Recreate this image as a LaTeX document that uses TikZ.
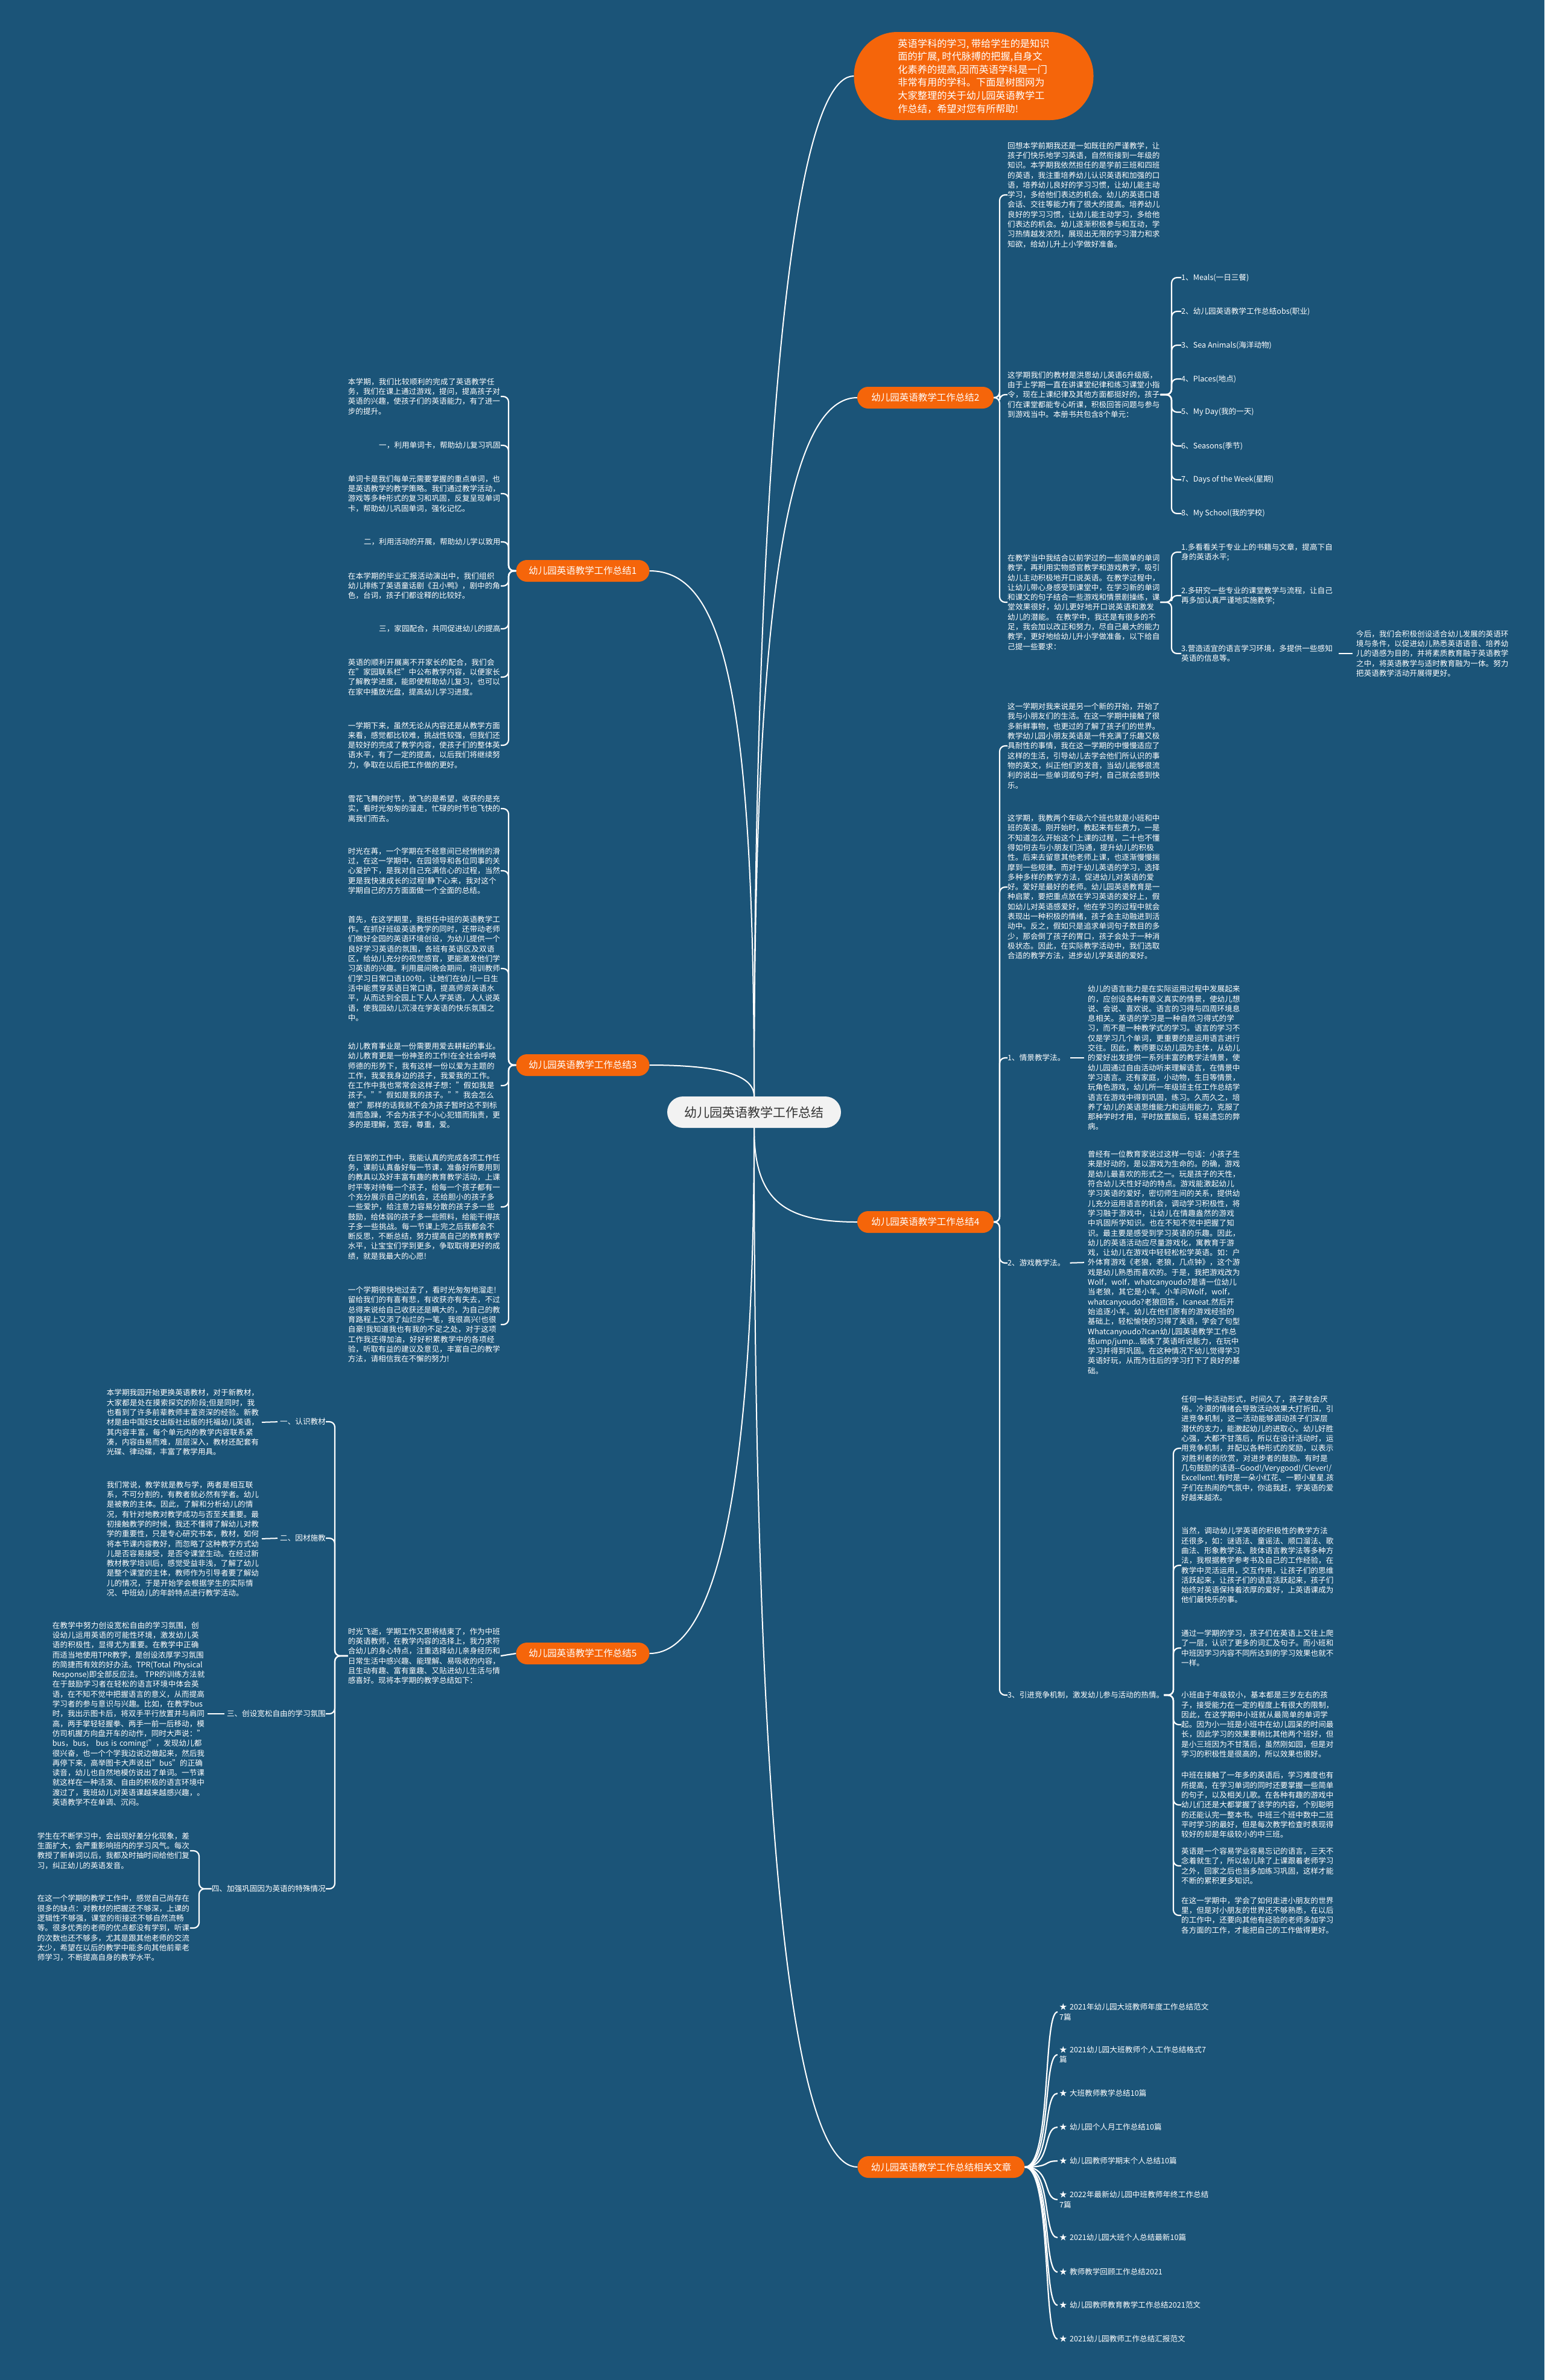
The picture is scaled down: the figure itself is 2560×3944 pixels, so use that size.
\documentclass[tikz,border=0pt]{standalone}
\usepackage{fontspec}
\setmainfont{Noto Sans CJK SC}
\XeTeXlinebreaklocale "zh"
\XeTeXlinebreakskip=0pt plus 0.5pt
\definecolor{bgc}{HTML}{1B5478}
\definecolor{org}{HTML}{F5650A}
\definecolor{cgray}{HTML}{F2F2F2}
\definecolor{ctext}{HTML}{333333}
\newcommand{\bodyfs}{\fontsize{12.6}{16.3}\selectfont}
\begin{document}
\begin{tikzpicture}[x=1pt,y=-1pt,
  tx/.style={text=white, font=\bodyfs, inner sep=0pt, align=left, text width=253pt},
  rt/.style={tx, anchor=west},
  lt/.style={tx, anchor=east},
  lh/.style={text=white, font=\bodyfs, inner sep=0pt, anchor=east},
  rh/.style={text=white, font=\bodyfs, inner sep=0pt, anchor=west},
  rel/.style={text=white, font=\bodyfs, inner sep=0pt, align=left, text width=250pt, anchor=west},
  mainnode/.style={fill=org, text=white, rounded corners=18pt, minimum height=36pt, font=\fontsize{15.5}{18}\selectfont, inner xsep=10pt, inner ysep=0pt},
  br/.style={draw=white, line width=2.2pt, rounded corners=9pt},
  mc/.style={draw=white, line width=2pt},
  dashline/.style={draw=white, line width=2pt}
]
\path[use as bounding box, fill=bgc] (0,0) rectangle (2560,3944);

% ---------- central and main nodes ----------
\node[fill=cgray, text=ctext, rounded corners=26pt, minimum width=288pt, minimum height=52pt, inner sep=0pt, font=\fontsize{21}{24}\selectfont] (c) at (1250,1843) {幼儿园英语教学工作总结};

\node[fill=org, text=white, rounded corners=72pt, minimum width=397pt, minimum height=146pt, align=left, inner sep=0pt, font=\fontsize{16.2}{21.6}\selectfont] (intro) at (1614,126) {英语学科的学习, 带给学生的是知识\\面的扩展, 时代脉搏的把握,自身文\\化素养的提高,因而英语学科是一门\\非常有用的学科。下面是树图网为\\大家整理的关于幼儿园英语教学工\\作总结，希望对您有所帮助!};

\node[mainnode, minimum width=221pt] (n1) at (966,946) {幼儿园英语教学工作总结1};
\node[mainnode, minimum width=226pt] (n2) at (1534,659) {幼儿园英语教学工作总结2};
\node[mainnode, minimum width=221pt] (n3) at (966,1765) {幼儿园英语教学工作总结3};
\node[mainnode, minimum width=226pt] (n4) at (1534,2025) {幼儿园英语教学工作总结4};
\node[mainnode, minimum width=221pt] (n5) at (966,2740) {幼儿园英语教学工作总结5};
\node[mainnode, minimum width=277pt] (n6) at (1560,3591) {幼儿园英语教学工作总结相关文章};

\draw[mc] (c.north) .. controls (1250,900) and (1300,126) .. (intro.west);
\draw[mc] (c.north) .. controls (1250,1100) and (1290,659) .. (n2.west);
\draw[mc] (c.north) .. controls (1250,1150) and (1200,946) .. (n1.east);
\draw[mc] (c.north) .. controls (1250,1780) and (1190,1765) .. (n3.east);
\draw[mc] (c.south) .. controls (1250,1990) and (1300,2025) .. (n4.west);
\draw[mc] (c.south) .. controls (1250,2400) and (1200,2740) .. (n5.east);
\draw[mc] (c.south) .. controls (1250,2900) and (1300,3591) .. (n6.west);

% bracket columns
\coordinate (bxR) at (1657,0);
\coordinate (bxE) at (1942,0);
\coordinate (bxH) at (1945,0);
\coordinate (bxL) at (843,0);
\coordinate (bxF) at (555,0);
\coordinate (bxG) at (330,0);

% ---------- branch 1 ----------
\node[lt] (a1) at (830,657) {本学期，我们比较顺利的完成了英语教学任务，我们在课上通过游戏，提问，提高孩子对英语的兴趣，使孩子们的英语能力，有了进一步的提升。};
\node[lh] (a2) at (830,738) {一，利用单词卡，帮助幼儿复习巩固};
\node[lt] (a3) at (830,818) {单词卡是我们每单元需要掌握的重点单词，也是英语教学的教学策略。我们通过教学活动，游戏等多种形式的复习和巩固，反复呈现单词卡，帮助幼儿巩固单词，强化记忆。};
\node[lh] (a4) at (830,898) {二，利用活动的开展，帮助幼儿学以致用};
\node[lt] (a5) at (830,971) {在本学期的毕业汇报活动演出中，我们组织幼儿排练了英语童话剧《丑小鸭》，剧中的角色，台词，孩子们都诠释的比较好。};
\node[lh] (a6) at (830,1042) {三，家园配合，共同促进幼儿的提高};
\node[lt] (a7) at (830,1122) {英语的顺利开展离不开家长的配合，我们会在"家园联系栏"中公布教学内容，以便家长了解教学进度，能即使帮助幼儿复习，也可以在家中播放光盘，提高幼儿学习进度。};
\node[lt] (a8) at (830,1235) {一学期下来，虽然无论从内容还是从教学方面来看，感觉都比较难，挑战性较强，但我们还是较好的完成了教学内容，使孩子们的整体英语水平，有了一定的提高，以后我们将继续努力，争取在以后把工作做的更好。};
\foreach \k in {a1,a2,a3,a4,a5,a6,a7,a8}
  \draw[br] (n1.west) -- (n1.west -| bxL) |- (\k.east);

% ---------- branch 3 ----------
\node[lt] (b1) at (830,1340) {雪花飞舞的时节，放飞的是希望，收获的是充实，看时光匆匆的溜走，忙碌的时节也飞快的离我们而去。};
\node[lt] (b2) at (830,1443) {时光在苒，一个学期在不经意间已经悄悄的滑过，在这一学期中，在园领导和各位同事的关心爱护下，是我对自己充满信心的过程，当然更是我快速成长的过程!静下心来，我对这个学期自己的方方面面做一个全面的总结。};
\node[lt] (b3) at (830,1605) {首先，在这学期里，我担任中班的英语教学工作。在抓好班级英语教学的同时，还带动老师们做好全园的英语环境创设，为幼儿提供一个良好学习英语的氛围，各班有英语区及双语区，给幼儿充分的视觉感官，更能激发他们学习英语的兴趣。利用晨间晚会期间，培训教师们学习日常口语100句，让她们在幼儿一日生活中能贯穿英语日常口语，提高师资英语水平，从而达到全园上下人人学英语，人人说英语，使我园幼儿沉浸在学英语的快乐氛围之中。};
\node[lt] (b4) at (830,1799) {幼儿教育事业是一份需要用爱去耕耘的事业。幼儿教育更是一份神圣的工作!在全社会呼唤师德的形势下，我有这样一份以爱为主题的工作，我爱我身边的孩子，我爱我的工作。在工作中我也常常会这样子想："假如我是孩子。""假如是我的孩子。""我会怎么做?"那样的话我就不会为孩子暂时达不到标准而急躁，不会为孩子不小心犯错而指责，更多的是理解，宽容，尊重，爱。};
\node[lt] (b5) at (830,2000) {在日常的工作中，我能认真的完成各项工作任务，课前认真备好每一节课，准备好所要用到的教具以及好丰富有趣的教育教学活动，上课时平等对待每一个孩子，给每一个孩子都有一个充分展示自己的机会，还给胆小的孩子多一些爱护，给注意力容易分散的孩子多一些鼓励，给体弱的孩子多一些照料，给能干得孩子多一些挑战。每一节课上完之后我都会不断反思，不断总结，努力提高自己的教育教学水平，让宝宝们学到更多，争取取得更好的成绩，就是我最大的心愿!};
\node[lt] (b6) at (830,2195) {一个学期很快地过去了，看时光匆匆地溜走!留给我们的有喜有悲，有收获亦有失去，不过总得来说给自己收获还是瞒大的，为自己的教育路程上又添了灿烂的一笔，我很高兴!也很自豪!我知道我也有我的不足之处，对于这项工作我还得加油，好好积累教学中的各项经验，听取有益的建议及意见，丰富自己的教学方法，请相信我在不懈的努力!};
\foreach \k in {b1,b2,b3,b4,b5,b6}
  \draw[br] (n3.west) -- (n3.west -| bxL) |- (\k.east);

% ---------- branch 5 ----------
\node[lt] (d0) at (830,2744) {时光飞逝，学期工作又即将结束了，作为中班的英语教师，在教学内容的选择上，我力求符合幼儿的身心特点，注重选择幼儿亲身经历和日常生活中感兴趣、能理解、易吸收的内容，且生动有趣、富有童趣、又贴进幼儿生活与情感喜好。现将本学期的教学总结如下：};
\draw[br] (n5.west) -- (d0.east);
\node[lh] (L1) at (540,2356) {一、认识教材};
\node[lh] (L2) at (540,2549) {二、因材施教};
\node[lh] (L3) at (540,2840) {三、创设宽松自由的学习氛围};
\node[lh] (L4) at (540,3130) {四、加强巩固因为英语的特殊情况};
\foreach \k in {L1,L2,L3,L4}
  \draw[br] (d0.west) -- (d0.west -| bxF) |- (\k.east);
\node[lt] (t1) at (430,2357) {本学期我园开始更换英语教材，对于新教材，大家都是处在摸索探究的阶段;但是同时，我也看到了许多前辈教师丰富资深的经验。新教材是由中国妇女出版社出版的托福幼儿英语，其内容丰富，每个单元内的教学内容联系紧凑，内容由易而难，层层深入，教材还配套有光碟、律动碟，丰富了教学用具。};
\node[lt] (t2) at (430,2550) {我们常说，教学就是教与学，两者是相互联系，不可分割的，有教者就必然有学者。幼儿是被教的主体。因此，了解和分析幼儿的情况，有针对地教对教学成功与否至关重要。最初接触教学的时候，我还不懂得了解幼儿对教学的重要性，只是专心研究书本，教材，如何将本节课内容教好，而忽略了这种教学方式幼儿是否容易接受，是否令课堂生动。在经过新教材教学培训后，感觉受益非浅，了解了幼儿是整个课堂的主体，教师作为引导者要了解幼儿的情况，于是开始学会根据学生的实际情况、中班幼儿的年龄特点进行教学活动。};
\node[lt] (t3) at (340,2840) {在教学中努力创设宽松自由的学习氛围，创设幼儿运用英语的可能性环境，激发幼儿英语的积极性，显得尤为重要。在教学中正确而适当地使用TPR教学，是创设浓厚学习氛围的简捷而有效的好办法。TPR(Total Physical Response)即全部反应法。 TPR的训练方法就在于鼓励学习者在轻松的语言环境中体会英语，在不知不觉中把握语言的意义，从而提高学习者的参与意识与兴趣。比如，在教学bus时，我出示图卡后，将双手平行放置并与肩同高，两手掌轻轻握拳、两手一前一后移动，模仿司机握方向盘开车的动作，同时大声说："bus，bus， bus is coming!"，发现幼儿都很兴奋，也一个个学我边说边做起来，然后我再停下来，高举图卡大声说出"bus"的正确读音，幼儿也自然地模仿说出了单词。一节课就这样在一种活泼、自由的积极的语言环境中渡过了，我班幼儿对英语课越来越感兴趣，。英语教学不在单调、沉闷。};
\node[lt] (t4a) at (315,3067) {学生在不断学习中，会出现好差分化现象，差生面扩大，会严重影响班内的学习风气。每次教授了新单词以后，我都及时抽时间给他们复习，纠正幼儿的英语发音。};
\node[lt] (t4b) at (315,3195) {在这一个学期的教学工作中，感觉自己尚存在很多的缺点：对教材的把握还不够深，上课的逻辑性不够强，课堂的衔接还不够自然流畅等。很多优秀的老师的优点都没有学到，听课的次数也还不够多，尤其是跟其他老师的交流太少，希望在以后的教学中能多向其他前辈老师学习，不断提高自身的教学水平。};
\draw[dashline, shorten <=4pt, shorten >=4pt] (L1.west) -- (t1.east);
\draw[dashline, shorten <=4pt, shorten >=4pt] (L2.west) -- (t2.east);
\draw[dashline, shorten <=4pt, shorten >=4pt] (L3.west) -- (t3.east);
\foreach \k in {t4a,t4b}
  \draw[br] (L4.west) -- (L4.west -| bxG) |- (\k.east);

% ---------- branch 2 ----------
\node[rt] (e1) at (1670,323) {回想本学前期我还是一如既往的严谨教学，让孩子们快乐地学习英语，自然衔接到一年级的知识。本学期我依然担任的是学前三班和四班的英语，我注重培养幼儿认识英语和加强的口语，培养幼儿良好的学习习惯，让幼儿能主动学习，多给他们表达的机会。幼儿的英语口语会话、交往等能力有了很大的提高。培养幼儿良好的学习习惯，让幼儿能主动学习，多给他们表达的机会。幼儿逐渐积极参与和互动，学习热情越发浓烈，展现出无限的学习潜力和求知欲，给幼儿升上小学做好准备。};
\node[rt] (e2) at (1670,654) {这学期我们的教材是洪恩幼儿英语6升级版，由于上学期一直在讲课堂纪律和练习课堂小指令，现在上课纪律及其他方面都挺好的，孩子们在课堂都能专心听课，积极回答问题与参与到游戏当中。本册书共包含8个单元：};
\node[rt] (e3) at (1670,998) {在教学当中我结合以前学过的一些简单的单词教学，再利用实物感官教学和游戏教学，吸引幼儿主动积极地开口说英语。在教学过程中，让幼儿带心身感受到课堂中，在学习新的单词和课文的句子结合一些游戏和情景剧操练，课堂效果很好，幼儿更好地开口说英语和激发幼儿的潜能。 在教学中，我还是有很多的不足，我会加以改正和努力，尽自己最大的能力教学，更好地给幼儿升小学做准备，以下给自己提一些要求：};
\foreach \k in {e1,e2,e3}
  \draw[br] (n2.east) -- (n2.east -| bxR) |- (\k.west);

\node[rh] (u1) at (1958,460) {1、Meals(一日三餐)};
\node[rh] (u2) at (1958,516) {2、幼儿园英语教学工作总结obs(职业)};
\node[rh] (u3) at (1958,572) {3、Sea Animals(海洋动物)};
\node[rh] (u4) at (1958,628) {4、Places(地点)};
\node[rh] (u5) at (1958,683) {5、My Day(我的一天)};
\node[rh] (u6) at (1958,739) {6、Seasons(季节)};
\node[rh] (u7) at (1958,795) {7、Days of the Week(星期)};
\node[rh] (u8) at (1958,851) {8、My School(我的学校)};
\foreach \k in {u1,u2,u3,u4,u5,u6,u7,u8}
  \draw[br] (e2.east) -- (e2.east -| bxE) |- (\k.west);

\node[rt] (f1) at (1958,915) {1.多看看关于专业上的书籍与文章，提高下自身的英语水平;};
\node[rt] (f2) at (1958,987) {2.多研究一些专业的课堂教学与流程，让自己再多加认真严谨地实施教学;};
\node[rt] (f3) at (1958,1083) {3.营造适宜的语言学习环境，多提供一些感知英语的信息等。};
\foreach \k in {f1,f2,f3}
  \draw[br] (e3.east) -- (e3.east -| bxE) |- (\k.west);
\node[rt] (g1) at (2248,1083) {今后，我们会积极创设适合幼儿发展的英语环境与条件，以促进幼儿熟悉英语语音、培养幼儿的语感为目的，并将素质教育融于英语教学之中，将英语教学与适时教育融为一体。努力把英语教学活动开展得更好。};
\draw[dashline, shorten <=8pt, shorten >=6pt] (f3.east) -- (g1.west);

% ---------- branch 4 ----------
\node[rt] (h1) at (1670,1236) {这一学期对我来说是另一个新的开始，开始了我与小朋友们的生活。在这一学期中接触了很多新鲜事物，也更过的了解了孩子们的世界。教学幼儿园小朋友英语是一件充满了乐趣又极具耐性的事情，我在这一学期的中慢慢适应了这样的生活，引导幼儿去学会他们所认识的事物的英文，纠正他们的发音，当幼儿能够很流利的说出一些单词或句子时，自己就会感到快乐。};
\node[rt] (h2) at (1670,1470) {这学期，我教两个年级六个班也就是小班和中班的英语。刚开始时，教起来有些费力，一是不知道怎么开始这个上课的过程，二十也不懂得如何去与小朋友们沟通，提升幼儿的积极性。后来去留意其他老师上课，也逐渐慢慢揣摩到一些规律。而对于幼儿英语的学习，选择多种多样的教学方法，促进幼儿对英语的爱好。爱好是最好的老师。幼儿园英语教育是一种启蒙，要把重点放在学习英语的爱好上，假如幼儿对英语感爱好，他在学习的过程中就会表现出一种积极的情绪，孩子会主动融进到活动中。反之，假如只是追求单词句子数目的多少，那会倒了孩子的胃口，孩子会处于一种消极状态。因此，在实际教学活动中，我们选取合适的教学方法，进步幼儿学英语的爱好。};
\node[rh] (h3) at (1670,1753) {1、情景教学法。};
\node[rh] (h4) at (1670,2093) {2、游戏教学法。};
\node[rh] (h5) at (1670,2809) {3、引进竞争机制，激发幼儿参与活动的热情。};
\foreach \k in {h1,h2,h3,h4,h5}
  \draw[br] (n4.east) -- (n4.east -| bxR) |- (\k.west);

\node[rt] (k1) at (1803,1753) {幼儿的语言能力是在实际运用过程中发展起来的，应创设各种有意义真实的情景，使幼儿想说、会说、喜欢说。语言的习得与四周环境息息相关。英语的学习是一种自然习得式的学习，而不是一种教学式的学习。语言的学习不仅是学习几个单词，更重要的是运用语言进行交往。因此，教师要以幼儿园为主体，从幼儿的爱好出发提供一系列丰富的教学法情景，使幼儿园通过自由活动听来理解语言，在情景中学习语言。还有家庭，小动物，生日等情景，玩角色游戏，幼儿所一年级班主任工作总结学语言在游戏中得到巩固，练习。久而久之，培养了幼儿的英语思维能力和运用能力，克服了那种学时才用，平时放置脑后，轻易遗忘的弊病。};
\node[rt] (k2) at (1803,2092) {曾经有一位教育家说过这样一句话：小孩子生来是好动的，是以游戏为生命的。的确，游戏是幼儿最喜欢的形式之一。玩是孩子的天性，符合幼儿天性好动的特点。游戏能激起幼儿学习英语的爱好，密切师生间的关系，提供幼儿充分运用语言的机会，调动学习积极性，将学习融于游戏中，让幼儿在情趣盎然的游戏中巩固所学知识。也在不知不觉中把握了知识。最主要是感受到学习英语的乐趣。因此，幼儿的英语活动应尽量游戏化，寓教育于游戏，让幼儿在游戏中轻轻松松学英语。如：户外体育游戏《老狼，老狼，几点钟》，这个游戏是幼儿熟悉而喜欢的。于是，我把游戏改为Wolf，wolf，whatcanyoudo?是请一位幼儿当老狼，其它是小羊。小羊问Wolf，wolf，whatcanyoudo?老狼回答，Icaneat.然后开始追逐小羊。幼儿在他们原有的游戏经验的基础上，轻松愉快的习得了英语，学会了句型Whatcanyoudo?Ican幼儿园英语教学工作总结ump/jump...锻炼了英语听说能力，在玩中学习并得到巩固。在这种情况下幼儿觉得学习英语好玩，从而为往后的学习打下了良好的基础。};
\draw[dashline, shorten <=8pt, shorten >=6pt] (h3.east) -- (k1.west);
\draw[dashline, shorten <=8pt, shorten >=6pt] (h4.east) -- (k2.west);

\node[rt] (m1) at (1958,2400) {任何一种活动形式，时间久了，孩子就会厌倦。冷漠的情绪会导致活动效果大打折扣，引进竞争机制，这一活动能够调动孩子们深层潜伏的支力，能激起幼儿的进取心。幼儿好胜心强，大都不甘落后，所以在设计活动时，运用竞争机制，并配以各种形式的奖励，以表示对胜利者的欣赏，对进步者的鼓励。有时是几句鼓励的话语-{}-Good!/Verygood!/Clever!/Excellent!.有时是一朵小红花、一颗小星星.孩子们在热闹的气氛中，你追我赶，学英语的爱好越来越浓。};
\node[rt] (m2) at (1958,2594) {当然，调动幼儿学英语的积极性的教学方法还很多，如：谜语法、童谣法、顺口溜法、歌曲法、形象教学法、肢体语言教学法等多种方法，我根据教学参考书及自己的工作经验，在教学中灵活运用，交互作用，让孩子们的思维活跃起来，让孩子们的语言活跃起来，孩子们始终对英语保持着浓厚的爱好，上英语课成为他们最快乐的事。};
\node[rt] (m3) at (1958,2731) {通过一学期的学习，孩子们在英语上又往上爬了一层，认识了更多的词汇及句子。而小班和中班因学习内容不同所达到的学习效果也就不一样。};
\node[rt] (m4) at (1958,2858) {小班由于年级较小，基本都是三岁左右的孩子，接受能力在一定的程度上有很大的限制，因此，在这学期中小班就从最简单的单词学起。因为小一班是小班中在幼儿园呆的时间最长，因此学习的效果要稍比其他两个班好，但是小三班因为不甘落后，虽然刚如园，但是对学习的积极性是很高的，所以效果也很好。};
\node[rt] (m5) at (1958,2991) {中班在接触了一年多的英语后，学习难度也有所提高，在学习单词的同时还要掌握一些简单的句子，以及相关儿歌。在各种有趣的游戏中幼儿们还是大都掌握了该学的内容，个别聪明的还能认完一整本书。中班三个班中数中二班平时学习的最好，但是每次教学检查时表现得较好的却是年级较小的中三班。};
\node[rt] (m6) at (1958,3092) {英语是一个容易学业容易忘记的语言，三天不念着就生了，所以幼儿除了上课跟着老师学习之外，回家之后也当多加练习巩固，这样才能不断的累积更多知识。};
\node[rt] (m7) at (1958,3174) {在这一学期中，学会了如何走进小朋友的世界里，但是对小朋友的世界还不够熟悉，在以后的工作中，还要向其他有经验的老师多加学习各方面的工作，才能把自己的工作做得更好。};
\foreach \k in {m1,m2,m3,m4,m5,m6,m7}
  \draw[br] (h5.east) -- (h5.east -| bxH) |- (\k.west);

% ---------- related articles ----------
\node[rel] (r1) at (1756,3334) {★ 2021年幼儿园大班教师年度工作总结范文7篇};
\node[rel] (r2) at (1756,3405) {★ 2021幼儿园大班教师个人工作总结格式7篇};
\node[rel] (r3) at (1756,3469) {★ 大班教师教学总结10篇};
\node[rel] (r4) at (1756,3525) {★ 幼儿园个人月工作总结10篇};
\node[rel] (r5) at (1756,3581) {★ 幼儿园教师学期末个人总结10篇};
\node[rel] (r6) at (1756,3645) {★ 2022年最新幼儿园中班教师年终工作总结7篇};
\node[rel] (r7) at (1756,3708) {★ 2021幼儿园大班个人总结最新10篇};
\node[rel] (r8) at (1756,3765) {★ 教师教学回顾工作总结2021};
\node[rel] (r9) at (1756,3820) {★ 幼儿园教师教育教学工作总结2021范文};
\node[rel] (r10) at (1756,3876) {★ 2021幼儿园教师工作总结汇报范文};
\foreach \k in {r1,r2,r3,r4,r5,r6,r7,r8,r9,r10}
  \draw[mc, line width=2.2pt] (n6.east) .. controls +(45,0) and +(-25,0) .. ([xshift=-3pt]\k.west);
\end{tikzpicture}
\end{document}
